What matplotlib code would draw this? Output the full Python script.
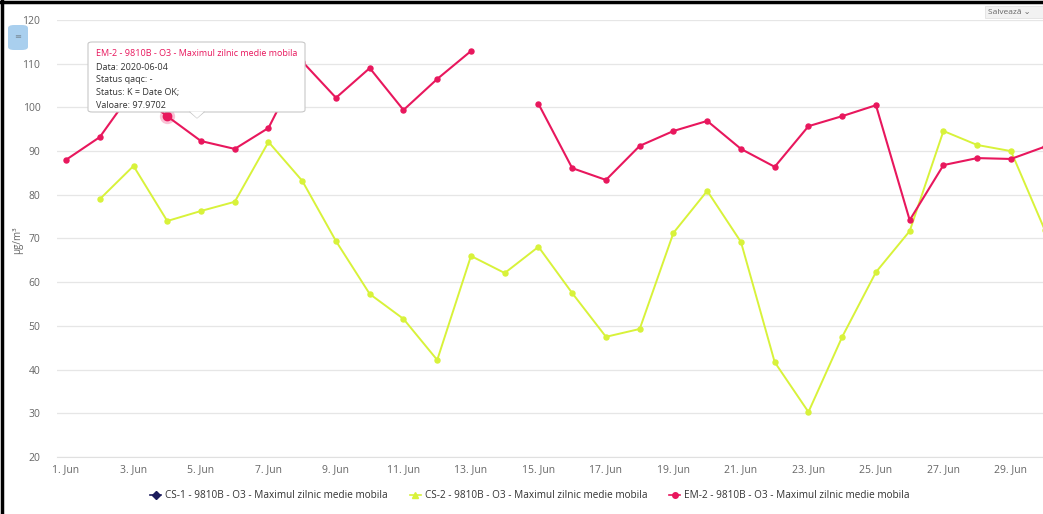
import numpy as np
import matplotlib.pyplot as plt
from matplotlib.patches import FancyBboxPatch, Polygon, Rectangle
from matplotlib.lines import Line2D

plt.rcParams['font.family'] = ['Open Sans', 'DejaVu Sans']

days = list(range(1, 31))
tick_days = list(range(1, 30, 2))
tick_labels = [f"{d}. Jun" for d in tick_days]

em2 = [88.0, 93.2, 104.0, 97.97, 92.3, 90.5, 95.3, 110.5, 102.2, 109.0,
       99.4, 106.5, 112.9, np.nan, 100.8, 86.1, 83.4, 91.2, 94.6, 96.9,
       90.5, 86.4, 95.7, 98.0, 100.5, 74.2, 86.8, 88.4, 88.2, 91.0]
cs2 = [np.nan, 79.0, 86.6, 74.0, 76.3, 78.4, 92.1, 83.2, 69.4, 57.3,
       51.6, 42.2, 66.0, 62.1, 68.1, 57.5, 47.5, 49.3, 71.3, 80.9,
       69.2, 41.7, 30.3, 47.5, 62.3, 71.7, 94.6, 91.4, 90.0, 72.0]

series_names = ["CS-1 - 9810B - O3 - Maximul zilnic medie mobila",
                "CS-2 - 9810B - O3 - Maximul zilnic medie mobila",
                "EM-2 - 9810B - O3 - Maximul zilnic medie mobila"]
colors = ["#1c1c5c", "#d8f23a", "#e8175d"]

W, H = 1043, 514
fig = plt.figure(figsize=(W / 100, H / 100), dpi=100)
ax = fig.add_axes([57 / W, 1 - 457 / H, (W - 57) / W, (457 - 20) / H])

def px(x, y):
    return (x / W, 1 - y / H)

ax.plot(days, cs2, color=colors[1], lw=1.4, marker='o', ms=3.6, zorder=3, clip_on=False)
ax.plot(days, em2, color=colors[2], lw=1.5, marker='o', ms=3.6, zorder=4, clip_on=False)
# hovered point
ax.plot([4], [em2[3]], marker='o', ms=11, color=colors[2], alpha=0.25, zorder=5, mec='none')
ax.plot([4], [em2[3]], marker='o', ms=6, color=colors[2], zorder=6)

ax.set_xlim(0.733, 29.95)
ax.set_ylim(20, 120)
ax.set_yticks(range(20, 121, 10))
ax.set_xticks(tick_days)
ax.set_xticklabels(tick_labels)
ax.grid(axis='y', color='#e6e6e6', lw=0.9)
ax.set_axisbelow(True)
for s in ['top', 'right', 'left']:
    ax.spines[s].set_visible(False)
ax.spines['bottom'].set_color('#e0e0e0')
ax.tick_params(axis='both', length=0, labelsize=7.5, colors='#666666')
ax.tick_params(axis='x', pad=5)
ax.tick_params(axis='y', pad=12)
fig.text(*px(18, 240), "µg/m³", rotation=90, fontsize=7, color='#666666', ha='center', va='center')

# tooltip
box = FancyBboxPatch(px(88, 112), (305 - 88) / W, (112 - 42) / H,
                     boxstyle="round,pad=0,rounding_size=0.004",
                     transform=fig.transFigure, fc='white', ec='#c8c8c8', lw=0.8, zorder=20)
fig.patches.append(box)
tri = Polygon([px(190, 111.5), px(204, 111.5), px(197, 118)], closed=True,
              transform=fig.transFigure, fc='white', ec='none', zorder=21)
fig.patches.append(tri)
fig.add_artist(Line2D([190 / W, 197 / W, 204 / W], [1 - 112 / H, 1 - 118 / H, 1 - 112 / H],
                      transform=fig.transFigure, color='#c8c8c8', lw=0.8, zorder=21))
tip_lines = ["Data: 2020-06-04", "Status qaqc: -", "Status: K = Date OK;", "Valoare: 97.9702"]
fig.text(*px(96, 53), series_names[2], color=colors[2], fontsize=6.5, va='center', zorder=22)
for i, t in enumerate(tip_lines):
    fig.text(*px(96, 67 + i * 13), t, color='#333333', fontsize=6.5, va='center', zorder=22)

# small menu button top-left
btn = FancyBboxPatch(px(8, 50), 20 / W, 25 / H, boxstyle="round,pad=0,rounding_size=0.006",
                     transform=fig.transFigure, fc='#a9cfee', ec='none', zorder=20)
fig.patches.append(btn)
fig.text(*px(14, 37), "≡", fontsize=6, color='#7a8c99', va='center', zorder=21)

# export button top-right
fig.patches.append(Rectangle(px(985, 18), 58 / W, 12 / H, transform=fig.transFigure,
                             fc='#f2f2f2', ec='#dddddd', lw=0.5, zorder=20))
fig.text(*px(988, 12), "Salvează ⌄", fontsize=6, color='#666666', va='center', zorder=21)

# screenshot frame
fig.add_artist(Line2D([1.5 / W, 1.5 / W], [0, 1], transform=fig.transFigure, color='black', lw=2.5))
fig.add_artist(Line2D([0, 1], [1 - 1.5 / H, 1 - 1.5 / H], transform=fig.transFigure, color='black', lw=2.5))

# legend
handles = [Line2D([], [], color=colors[0], marker='D', ms=4, lw=1.2),
           Line2D([], [], color=colors[1], marker='^', ms=4, lw=1.2),
           Line2D([], [], color=colors[2], marker='o', ms=4, lw=1.2)]
fig.legend(handles, series_names, loc='center', bbox_to_anchor=(530 / W, 1 - 496 / H), ncol=3,
           frameon=False, fontsize=7.2, handlelength=1.1, handletextpad=0.4, columnspacing=2.2,
           labelcolor='#333333')

fig.savefig("out.png", dpi=100)
